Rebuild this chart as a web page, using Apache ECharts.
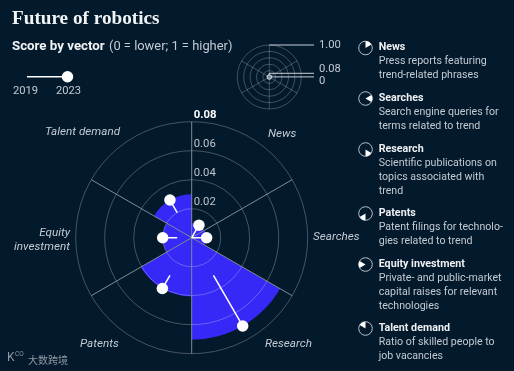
<!DOCTYPE html>
<html><head><meta charset="utf-8">
<style>html,body{margin:0;padding:0;background:#03192c}#c{width:514px;height:371px}</style>
<script src="https://cdn.jsdelivr.net/npm/echarts@6/dist/echarts.min.js"></script>
</head><body><div id="c"></div>
<script>
const categories = ['News','Searches','Research','Patents','Equity investment','Talent demand'];
const values2019 = [0, 0, 0.03, 0.03, 0.01, 0.02];
const values2023 = [0.01, 0.0103, 0.0703, 0.0405, 0.02, 0.03];
const radiusTicks = [0, 0.02, 0.04, 0.06, 0.08];
const insetTicks = ['1.00', '0.08', '0'];
const years = ['2019', '2023'];
const descriptions = [
  ['Press reports featuring','trend-related phrases'],
  ['Search engine queries for','terms related to trend'],
  ['Scientific publications on','topics associated with','trend'],
  ['Patent filings for technolo-','gies related to trend'],
  ['Private- and public-market','capital raises for relevant','technologies'],
  ['Ratio of skilled people to','job vacancies']
];
const SANS = 'Roboto, sans-serif';
const BG = '#03192c', BLUE = '#3628f7', TXT = '#c4cbd2';
const legendY = [47.5, 98, 149, 213, 264, 328];
const CX = 191.7, CY = 237.7, R = 116, IX = 269.3, IY = 77, IR = 32;

const g = [];
function text(x, y, t, o) {
  g.push({type:'text', x, y, silent:true, z:20, style:Object.assign({text:t, fill:TXT, font:'400 11px '+SANS, textVerticalAlign:'middle', textBaseline:'middle'}, o||{})});
}
function line(x1,y1,x2,y2,stroke,w){
  g.push({type:'line', silent:true, z:20, shape:{x1,y1,x2,y2}, style:{stroke:stroke||'#cfd5da', lineWidth:w||1}});
}
text(12, 19, 'Future of robotics', {fill:'#f2f3f4', font:'700 19.2px "Liberation Serif", serif'});
text(12, 47, 'Score by vector', {fill:'#f2f3f4', font:'700 13.3px '+SANS});
text(109, 47, '(0 = lower; 1 = higher)', {font:'400 12.9px '+SANS});
line(27, 76.7, 67, 76.7, '#ffffff', 1.5);
g.push({type:'circle', silent:true, z:21, shape:{cx:67.5, cy:76.7, r:5.7}, style:{fill:'#fff'}});
text(13, 91, years[0], {font:'400 11.2px '+SANS});
text(56, 91, years[1], {font:'400 11.2px '+SANS});
// inset
g.push({type:'circle', silent:true, z:21, shape:{cx:IX, cy:IY, r:2.3}, style:{fill:'#7f8d99', stroke:'#d5dadf', lineWidth:1}});
line(IX, 45, 314, 45, '#c9cfd5', 1);
line(IX, 77, IX, 73.3, '#e4e7ea', 1);
line(IX, 73.3, 314, 73.3, '#c9cfd5', 1);
line(IX, 76.9, 314, 76.9, '#c9cfd5', 1);
text(319, 45, insetTicks[0], {font:'400 11.2px '+SANS});
text(319, 69, insetTicks[1], {font:'400 11.2px '+SANS});
text(319, 81, insetTicks[2], {font:'400 11.2px '+SANS});
// category labels
const catPos = [[268,134,'left'],[313,237,'left'],[265,344,'left'],[80,344,'left'],[70,0,'right'],[45,132,'left']];
categories.forEach((c,i)=>{
  const p = catPos[i];
  const font = 'italic 400 11.7px '+SANS;
  if (i===4) {
    text(70, 233, 'Equity', {font, textAlign:'right'});
    text(70, 247, 'investment', {font, textAlign:'right'});
  } else text(p[0], p[1], c, {font, textAlign:p[2]});
});
// vector legend
categories.forEach((c,i)=>{
  const y = legendY[i], x = 365.5, r = 6.8;
  g.push({type:'circle', silent:true, z:20, shape:{cx:x, cy:y+0.5, r}, style:{fill:'none', stroke:'#b9c1c9', lineWidth:1}});
  g.push({type:'sector', silent:true, z:20, shape:{cx:x, cy:y+0.5, r:r, r0:0, startAngle:-Math.PI/2+i*Math.PI/3, endAngle:-Math.PI/2+(i+1)*Math.PI/3}, style:{fill:'#fff'}});
  text(378.7, y, c, {fill:'#eef0f2', font:'700 10.7px '+SANS});
  descriptions[i].forEach((d,j)=> text(378.7, y+14+14*j, d, {font:'400 10.6px '+SANS}));
});
// credit
text(7, 358, 'K', {fill:'#8f99a3', font:'400 12px '+SANS});
text(15, 354.5, 'CO', {fill:'#8f99a3', font:'400 6.5px '+SANS});
text(28, 360, '大数跨境', {fill:'#8f99a3', font:'400 10px "Noto Sans CJK SC"'});

const vectorSeries = categories.map((c,i)=>({
  type:'line', coordinateSystem:'polar', polarIndex:0, z:6, silent:true,
  data:[[values2019[i], i],[values2023[i], i]],
  symbol:(v,p)=> p.dataIndex===1 ? 'circle':'none', symbolSize:11.5, showSymbol:true,
  lineStyle:{color:'#fff', width:1.5}, itemStyle:{color:'#fff', opacity:1}, animation:false
}));

const chart = echarts.init(document.getElementById('c'), null, {renderer:'canvas'});
chart.setOption({
  backgroundColor:BG, animation:false,
  polar:[{center:[CX,CY], radius:R},{center:[IX,IY], radius:IR}],
  angleAxis:[
    {polarIndex:0, type:'category', data:categories, startAngle:90, clockwise:true, boundaryGap:true, z:3,
      axisLine:{show:false}, axisTick:{show:false}, axisLabel:{show:false},
      splitLine:{show:true, lineStyle:{color:'#7f8c98', width:1}}},
    {polarIndex:1, type:'category', data:categories, startAngle:90, clockwise:true, boundaryGap:true,
      axisLine:{show:false}, axisTick:{show:false}, axisLabel:{show:false},
      splitLine:{show:true, lineStyle:{color:'rgba(255,255,255,0.3)', width:0.8}}}
  ],
  radiusAxis:[
    {polarIndex:0, type:'value', min:radiusTicks[0], max:radiusTicks[radiusTicks.length-1], interval:0.02, z:3,
      axisLine:{show:false}, axisTick:{show:false},
      splitLine:{show:true, lineStyle:{color:'rgba(255,255,255,0.26)', width:1}},
      axisLabel:{show:true, inside:true, margin:-2, verticalAlign:'bottom', align:'left', color:'#bfc6cd', fontFamily:SANS, fontSize:11.3, lineHeight:14,
        formatter:v=> v===0?'':(v>=0.08?'{b|0.08}':v.toFixed(2)),
        rich:{b:{fontWeight:700, color:'#fff', fontFamily:SANS, fontSize:11.3}}}},
    {polarIndex:1, type:'value', min:0, max:1, interval:0.2,
      axisLine:{show:false}, axisTick:{show:false}, axisLabel:{show:false},
      splitLine:{show:true, lineStyle:{color:'rgba(255,255,255,0.3)', width:0.8}}}
  ],
  series:[{type:'bar', coordinateSystem:'polar', polarIndex:0, data:values2023, barWidth:'100%', barGap:0, barCategoryGap:0, z:2, silent:true, itemStyle:{color:BLUE}}].concat(vectorSeries),
  graphic:g
});
</script></body></html>
